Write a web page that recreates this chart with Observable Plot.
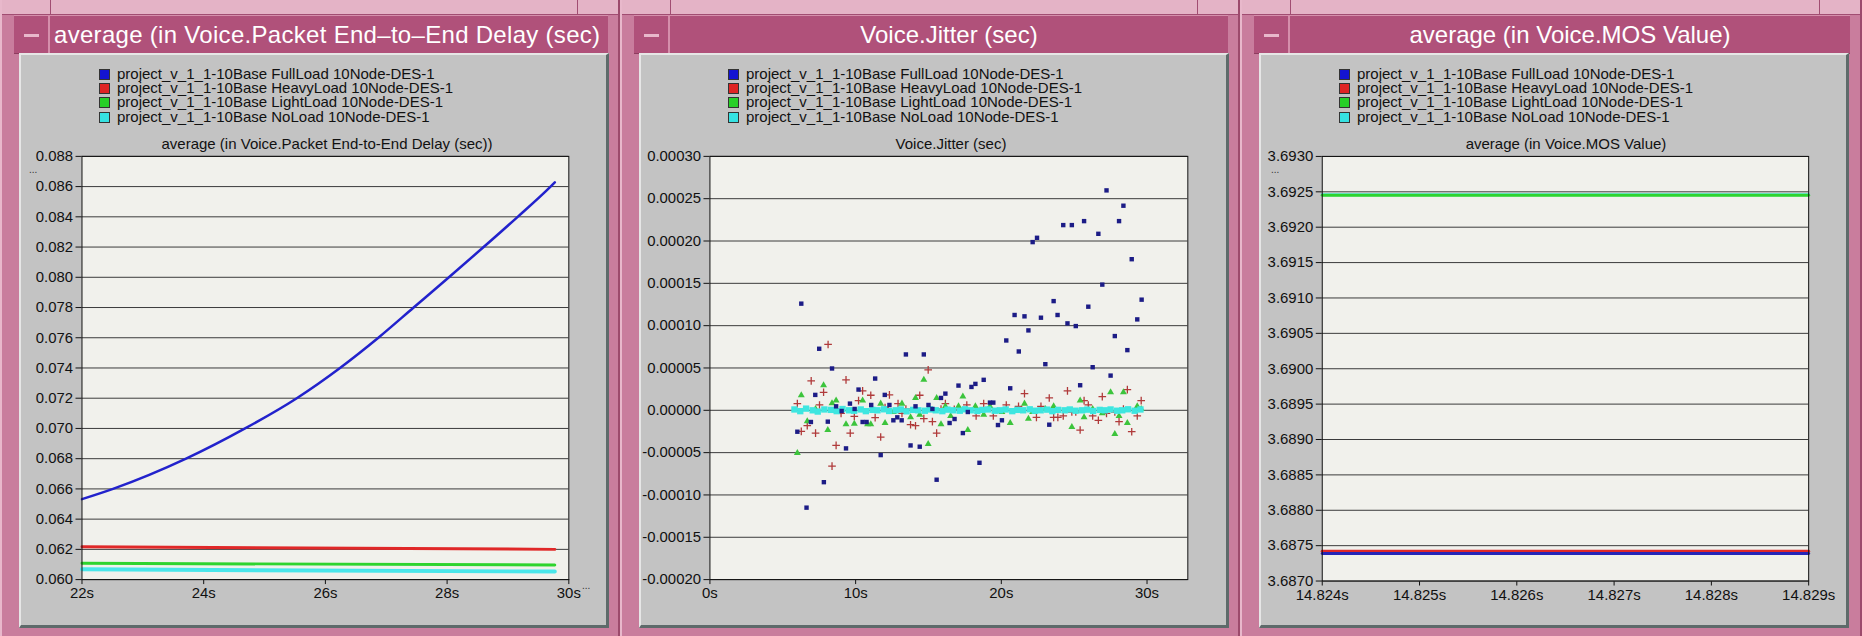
<!DOCTYPE html>
<html><head><meta charset="utf-8">
<script src="https://cdn.jsdelivr.net/npm/d3@7"></script>
<script src="https://cdn.jsdelivr.net/npm/@observablehq/plot@0.6"></script>
<style>
body{margin:0;width:1862px;height:636px;overflow:hidden;background:#d48fab;font-family:"Liberation Sans",Arial,sans-serif;position:relative}
.win{position:absolute;top:0;height:636px;background:#c97d9d;box-sizing:border-box;border-left:2px solid #e8b8cb;border-right:2px solid #9c4a6c;}
.top{position:absolute;left:0;right:0;top:0;height:14px;background:#e4b3c6;border-bottom:1px solid #a14d72}
.notch{position:absolute;top:0;width:1px;height:14px;background:#a14d72}
.tbar{position:absolute;left:12px;top:15px;height:37px;background:#b0517a;overflow:hidden;border-top:1px solid #d58fab;border-bottom:1px solid #8e3d60}
.btn{position:absolute;left:0;top:0;width:34px;height:37px;border-right:2px solid #d58fab}
.btn i{position:absolute;left:10px;top:18px;width:15px;height:3px;background:#e8b8cb}
.ttl{position:absolute;top:0;height:37px;line-height:37px;color:#fff;font-size:24px;white-space:nowrap}
.bd{position:absolute;left:17px;top:53px;width:590px;height:575px;background:#c3c3c3;box-sizing:border-box;border-top:2px solid #e6e6e6;border-left:2px solid #e6e6e6;border-right:3px solid #5e6a6a;border-bottom:3px solid #5e6a6a}
.leg{position:absolute;top:67px;font-size:15px;line-height:14.2px;color:#111;white-space:nowrap}
.leg div{position:relative;height:14.2px}
.leg b{position:absolute;left:-18px;top:2px;width:9px;height:9px;border:1px solid #333}
.sub{position:absolute;top:136px;font-size:15px;line-height:16px;color:#111;text-align:center;white-space:nowrap}
.dots{position:absolute;font-size:10px;line-height:8px;color:#333}
.plot{position:absolute;top:135px;left:0}
</style>
</head><body>
<script>
// ---------- shared ----------
const seriesNames = [
  "project_v_1_1-10Base FullLoad 10Node-DES-1",
  "project_v_1_1-10Base HeavyLoad 10Node-DES-1",
  "project_v_1_1-10Base LightLoad 10Node-DES-1",
  "project_v_1_1-10Base NoLoad 10Node-DES-1"
];
const seriesColors = ["#1414d2", "#e02424", "#28d028", "#36e2e2"];

// ---------- panel 1: average Voice.Packet End-to-End Delay ----------
const delayTitle = "average (in Voice.Packet End\u2013to\u2013End Delay (sec)";
const delaySub = "average (in Voice.Packet End-to-End Delay (sec))";
const delayXTicks = [22, 24, 26, 28, 30];
const delayYTicks = [0.060, 0.062, 0.064, 0.066, 0.068, 0.070, 0.072, 0.074, 0.076, 0.078, 0.080, 0.082, 0.084, 0.086, 0.088];
const delayFullT = [22, 22.51, 23.71, 24.68, 25.53, 26.24, 26.87, 27.45, 28.03, 28.60, 29.16, 29.70, 29.77];
const delayFullV = [0.06532, 0.0660, 0.0680, 0.0700, 0.0720, 0.0740, 0.0760, 0.0780, 0.0800, 0.0820, 0.0840, 0.0860, 0.08628];
const delayFlatT = [22, 29.77];
const delayHeavyV = [0.06218, 0.06200];
const delayLightV = [0.06108, 0.06097];
const delayNoV = [0.06068, 0.06053];

// ---------- panel 2: Voice.Jitter ----------
const jitTitle = "Voice.Jitter (sec)";
const jitXTicks = [0, 10, 20, 30];
const jitYTicks = [-0.00020, -0.00015, -0.00010, -0.00005, 0, 0.00005, 0.00010, 0.00015, 0.00020, 0.00025, 0.00030];
const jitFullT = [6.27, 7.50, 8.38, 7.23, 6.93, 6.0, 8.09, 8.66, 9.04, 9.34, 7.82, 6.63, 9.61, 9.93, 10.2, 10.48, 10.75, 11.07, 11.34, 11.72, 12.0, 12.32, 12.59, 12.86, 13.16, 13.45, 13.77, 14.11, 14.4, 14.68, 15.0, 15.27, 15.56, 15.86, 16.16, 16.45,
  17.06, 17.95, 18.22, 18.79, 16.79, 17.36, 17.7, 19.22, 19.45, 19.77, 20.04, 20.61, 18.5, 20.34, 20.91, 21.2, 21.59, 21.86, 22.15, 22.45, 22.72, 23.02, 23.59, 23.86, 24.25, 24.54, 24.84, 25.11, 25.41, 25.68, 25.97, 26.27, 26.66, 26.93, 27.22, 27.5, 27.79, 28.08, 28.38, 28.65, 28.95, 29.33, 29.63, 23.29];
const jitFullV = [12.6e-5, 7.27e-5, 4.94e-5, 1.82e-5, -1.38e-5, -2.53e-5, -1.34e-5, 0.47e-5, -0.08e-5, -4.5e-5, -8.49e-5, -11.5e-5, 0.79e-5, 0.16e-5, 2.45e-5, -1.38e-5, -1.38e-5, 0.63e-5, 3.75e-5, -5.29e-5, 1.82e-5, 0.63e-5, -1.18e-5, -0.83e-5, -1.18e-5, 6.6e-5, -4.15e-5, 0.47e-5, -4.3e-5, 6.6e-5, 0.63e-5, 0.16e-5, -8.2e-5, 1.46e-5, 1.97e-5, -1.5e-5,
  2.92e-5, 2.76e-5, 3.12e-5, 3.6e-5, -1.03e-5, -2.69e-5, -0.2e-5, 0.91e-5, 0.91e-5, -1.74e-5, -1.18e-5, 2.6e-5, -6.2e-5, 8.25e-5, 11.26e-5, 6.95e-5, 11.1e-5, 9.44e-5, 19.87e-5, 20.38e-5, 10.94e-5, 5.45e-5, 12.9e-5, 11.26e-5, 21.88e-5, 10.27e-5, 21.88e-5, 9.95e-5, 2.96e-5, 22.35e-5, 12.24e-5, 5.09e-5, 20.85e-5, 14.85e-5, 25.98e-5, 4.1e-5, 8.77e-5, 22.35e-5, 24.17e-5, 7.11e-5, 17.85e-5, 10.74e-5, 13.07e-5, -1.7e-5];
const jitHeavyT = [8.11, 6.95, 9.34, 7.8, 7.52, 6.0, 6.27, 6.68, 7.25, 8.66, 8.38, 9.0, 9.91, 9.63, 10.2, 10.48, 11.04, 11.34, 11.72, 12.02, 12.32, 12.91, 13.18, 13.45, 13.77, 14.11, 14.4, 14.68, 14.98, 15.27, 15.56, 15.86, 16.16,
  16.77, 17.63, 18.27, 18.79, 19.45, 20.34, 21.18, 21.59, 22.41, 22.72, 23.29, 23.59, 23.88, 24.25, 24.54, 24.84, 25.11, 25.41, 25.68, 25.97, 26.27, 26.66, 26.93, 27.22, 27.79, 28.08, 28.38, 28.65, 28.95, 29.33, 29.6];
const jitHeavyV = [7.78e-5, 3.48e-5, 3.6e-5, 2.13e-5, 0.63e-5, 0.79e-5, -2.49e-5, -1.82e-5, -2.69e-5, -4.15e-5, -6.6e-5, -0.36e-5, -0.71e-5, -2.69e-5, 1.15e-5, 2.29e-5, 1.78e-5, -0.87e-5, -3.16e-5, 0.32e-5, 1.82e-5, 0.79e-5, -0.36e-5, 0.16e-5, -1.7e-5, -1.82e-5, 1.78e-5, -0.99e-5, 4.78e-5, -1.34e-5, -2.69e-5, 0.16e-5, 0.79e-5,
  0.12e-5, 0.63e-5, -0.67e-5, 0.79e-5, -0.67e-5, 0.63e-5, 0.47e-5, 1.97e-5, -0.83e-5, 0.47e-5, 1.46e-5, -0.83e-5, -0.83e-5, -0.67e-5, 2.29e-5, -0.2e-5, -0.2e-5, -2.33e-5, 1.15e-5, 0.63e-5, -0.67e-5, -1.18e-5, 1.62e-5, -0.36e-5, -0.2e-5, -1.34e-5, 0.16e-5, 2.45e-5, -2.53e-5, -0.67e-5, 1.15e-5];
const jitLightT = [6.27, 6.0, 7.8, 6.68, 7.25, 8.09, 8.66, 8.38, 9.34, 9.91, 10.48, 10.82, 11.04, 11.72, 12.02, 12.59, 13.18, 13.77, 14.11, 14.68, 14.4, 14.98, 15.56, 15.86, 16.16,
  16.52, 17.06, 17.36, 17.7, 18.22, 18.79, 19.22, 20.04, 20.61, 21.59, 21.86, 22.15, 23.02, 23.59, 24.84, 25.41, 25.68, 26.27, 26.93, 27.5, 27.79, 28.08, 28.38, 28.65, 29.33, 29.6];
const jitLightV = [1.78e-5, -5.05e-5, 2.96e-5, -1.3e-5, 0.16e-5, -2.33e-5, 1.15e-5, 0.83e-5, -1.66e-5, -1.58e-5, 1.15e-5, -1.66e-5, -1.66e-5, 0.79e-5, -1.5e-5, -0.2e-5, 0.79e-5, -0.83e-5, 1.46e-5, 3.6e-5, -0.51e-5, -3.99e-5, 1.46e-5, -1.66e-5, 0.47e-5,
  -0.67e-5, 0.47e-5, 1.62e-5, -2.33e-5, 0.47e-5, -0.51e-5, 0.47e-5, -0.2e-5, -1.5e-5, 0.79e-5, -0.99e-5, -0.2e-5, 0.16e-5, 0.47e-5, -1.97e-5, 1.15e-5, -0.83e-5, 0.16e-5, -0.36e-5, 2.13e-5, -2.8e-5, -0.67e-5, 2.13e-5, -1.5e-5, 0.47e-5, 0.16e-5];
const jitNoT = [5.8, 6.2, 6.6, 7.05, 7.4, 7.85, 8.3, 8.7, 9.1, 9.55, 9.9, 10.35, 10.7, 11.15, 11.5, 11.95, 12.3, 12.75, 13.1, 13.5, 13.95, 14.3, 14.75, 15.1, 15.5, 15.95, 16.3, 16.7, 17.15, 17.5, 17.9, 18.35, 18.7, 19.1, 19.55, 19.9, 20.3, 20.75, 21.1, 21.5, 21.95, 22.3, 22.7, 23.15, 23.5, 23.9, 24.35, 24.7, 25.1, 25.55, 25.9, 26.3, 26.75, 27.1, 27.5, 27.95, 28.3, 28.7, 29.15, 29.55];
const jitNoV = [0.1e-5, -0.1e-5, 0.2e-5, 0.0e-5, -0.15e-5, 0.1e-5, 0.05e-5, -0.1e-5, 0.15e-5, 0.0e-5, -0.05e-5, 0.1e-5, -0.1e-5, 0.05e-5, 0.0e-5, 0.12e-5, -0.08e-5, 0.0e-5, 0.1e-5, -0.12e-5, 0.05e-5, 0.0e-5, -0.05e-5, 0.1e-5, 0.0e-5, -0.1e-5, 0.08e-5, 0.0e-5, -0.05e-5, 0.12e-5, 0.0e-5, -0.08e-5, 0.05e-5, 0.1e-5, -0.05e-5, 0.0e-5, 0.1e-5, -0.1e-5, 0.05e-5, 0.0e-5, 0.12e-5, -0.05e-5, 0.0e-5, 0.08e-5, -0.1e-5, 0.05e-5, 0.0e-5, 0.1e-5, -0.05e-5, 0.0e-5, 0.08e-5, -0.08e-5, 0.05e-5, 0.0e-5, 0.1e-5, -0.05e-5, 0.0e-5, 0.12e-5, -0.05e-5, 0.1e-5];

// ---------- panel 3: average Voice.MOS Value ----------
const mosTitle = "average (in Voice.MOS Value)";
const mosXTicks = [14.824, 14.825, 14.826, 14.827, 14.828, 14.829];
const mosYTicks = [3.6870, 3.6875, 3.6880, 3.6885, 3.6890, 3.6895, 3.6900, 3.6905, 3.6910, 3.6915, 3.6920, 3.6925, 3.6930];
const mosT = [14.824, 14.829];
const mosFullV = [3.68739, 3.68739];
const mosHeavyV = [3.68742, 3.68742];
const mosLightV = [3.69245, 3.69245];
const mosNoV = [3.69246, 3.69246];

// ---------- helpers ----------
const rows = (ts, vs) => ts.map((t, i) => ({t, v: vs[i]}));
const signFmt = (dec) => d => (d < -1e-12 ? "-" : "") + Math.abs(d).toFixed(dec);
const baseStyle = {background: "transparent", fontFamily: "Liberation Sans, Arial, sans-serif", fontSize: "15px", color: "#111", overflow: "visible"};

function windowFrame(left, width, title, titleAlignLeft, legendLeft, subText, subLeft, subWidth) {
  const w = document.createElement("div");
  w.className = "win";
  w.style.left = left + "px";
  w.style.width = width + "px";
  w.innerHTML = `<div class="top"></div><div class="notch" style="left:48px"></div><div class="notch" style="left:${width-45}px"></div>
    <div class="tbar" style="width:${width-26}px"><div class="btn"><i></i></div>
    <div class="ttl" style="${titleAlignLeft ? "left:40px;letter-spacing:0.3px" : "left:36px;right:0;text-align:center"}">${title}</div></div>
    <div class="bd"></div>
    <div class="leg" style="left:${legendLeft}px">${seriesNames.map((n, i) => `<div><b style="background:${seriesColors[i]}"></b>${n}</div>`).join("")}</div>
    <div class="sub" style="left:${subLeft}px;width:${subWidth}px">${subText}</div>`;
  document.body.appendChild(w);
  return w;
}

// ---------- panel 1 ----------
{
  const w = windowFrame(0, 620, delayTitle, true, 115, delaySub, 80, 490);
  const p = Plot.plot({
    width: 620, height: 480, marginTop: 21, marginBottom: 33, marginLeft: 80, marginRight: 50,
    style: baseStyle,
    x: {domain: [22, 30], ticks: delayXTicks, tickFormat: d => d + "s", tickSize: 5, tickPadding: 3, label: null},
    y: {domain: [0.060, 0.088], ticks: delayYTicks, tickFormat: d => d.toFixed(3), tickSize: 6, tickPadding: 3, label: null},
    marks: [
      Plot.frame({fill: "#f1f1ec"}),
      Plot.ruleY(delayYTicks, {stroke: "#3a3a3a", strokeWidth: 1}),
      Plot.line(rows(delayFlatT, delayNoV), {x: "t", y: "v", stroke: "#4ae6ea", strokeWidth: 4}),
      Plot.line(rows(delayFlatT, delayLightV), {x: "t", y: "v", stroke: "#2ed42e", strokeWidth: 3}),
      Plot.line(rows(delayFlatT, delayHeavyV), {x: "t", y: "v", stroke: "#e02828", strokeWidth: 3}),
      Plot.line(rows(delayFullT, delayFullV), {x: "t", y: "v", stroke: "#2222cc", strokeWidth: 2.5, curve: "monotone-x"}),
      Plot.frame({stroke: "#111"})
    ]
  });
  p.classList.add("plot");
  w.appendChild(p);
  w.insertAdjacentHTML("beforeend", `<div class="dots" style="left:27px;top:166px">...</div><div class="dots" style="left:580px;top:582px">...</div>`);
}

// ---------- panel 2 ----------
{
  const w = windowFrame(620, 620, jitTitle, false, 124, jitTitle, 89, 480);
  const p = Plot.plot({
    width: 620, height: 480, marginTop: 21, marginBottom: 33, marginLeft: 88, marginRight: 51,
    style: baseStyle,
    x: {domain: [0, 32.8], ticks: jitXTicks, tickFormat: d => d + "s", tickSize: 5, tickPadding: 3, label: null},
    y: {domain: [-0.0002, 0.0003], ticks: jitYTicks, tickFormat: signFmt(5), tickSize: 6, tickPadding: 3, label: null},
    marks: [
      Plot.frame({fill: "#f1f1ec"}),
      Plot.ruleY(jitYTicks, {stroke: "#3a3a3a", strokeWidth: 1}),
      Plot.dot(rows(jitHeavyT, jitHeavyV), {x: "t", y: "v", symbol: "plus", r: 2.6, stroke: "#b03a3a", strokeWidth: 1.3}),
      Plot.dot(rows(jitLightT, jitLightV), {x: "t", y: "v", symbol: "triangle", r: 2.6, fill: "#3cc43c", stroke: "none"}),
      Plot.dot(rows(jitNoT, jitNoV), {x: "t", y: "v", symbol: "square", r: 3.6, fill: "#3ee6e0", stroke: "none"}),
      Plot.dot(rows(jitFullT, jitFullV), {x: "t", y: "v", symbol: "square", r: 2.5, fill: "#1c1c86", stroke: "none"}),
      Plot.frame({stroke: "#111"})
    ]
  });
  p.classList.add("plot");
  w.appendChild(p);
}

// ---------- panel 3 ----------
{
  const w = windowFrame(1240, 622, mosTitle, false, 115, mosTitle, 80, 488);
  const p = Plot.plot({
    width: 620, height: 480, marginTop: 21, marginBottom: 33, marginLeft: 80, marginRight: 52,
    style: baseStyle,
    x: {domain: [14.824, 14.829], ticks: mosXTicks, tickFormat: d => d.toFixed(3) + "s", tickSize: 5, tickPadding: 3, label: null},
    y: {domain: [3.6870, 3.6930], ticks: mosYTicks, tickFormat: d => d.toFixed(4), tickSize: 6, tickPadding: 3, label: null},
    marks: [
      Plot.frame({fill: "#f1f1ec"}),
      Plot.ruleY(mosYTicks, {stroke: "#3a3a3a", strokeWidth: 1}),
      Plot.line(rows(mosT, mosNoV), {x: "t", y: "v", stroke: "#4ae6ea", strokeWidth: 3}),
      Plot.line(rows(mosT, mosLightV), {x: "t", y: "v", stroke: "#2ed42e", strokeWidth: 3}),
      Plot.line(rows(mosT, mosHeavyV), {x: "t", y: "v", stroke: "#e02828", strokeWidth: 3}),
      Plot.line(rows(mosT, mosFullV), {x: "t", y: "v", stroke: "#2626b8", strokeWidth: 3}),
      Plot.frame({stroke: "#111"})
    ]
  });
  p.classList.add("plot");
  w.appendChild(p);
  w.insertAdjacentHTML("beforeend", `<div class="dots" style="left:29px;top:166px">...</div>`);
}
</script>
</body></html>
